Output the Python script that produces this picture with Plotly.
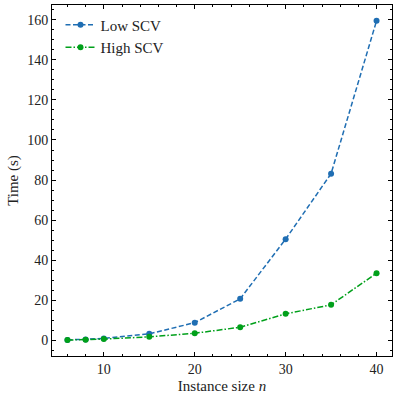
import plotly.graph_objects as go

# instance sizes and solve times
sizes = [6, 8, 10, 15, 20, 25, 30, 35, 40]
low_scv = [0.2, 0.4, 0.9, 3.2, 8.8, 20.7, 50.5, 83.2, 159.5]
high_scv = [0.1, 0.3, 0.6, 1.7, 3.5, 6.5, 13.2, 17.7, 33.5]

blue = "#1f6eb3"
green = "#00a01a"
font_family = "Liberation Serif, DejaVu Serif, serif"

fig = go.Figure()
fig.add_trace(go.Scatter(
    x=sizes, y=low_scv, name="Low SCV", mode="lines+markers",
    line=dict(color=blue, width=1.5, dash="5px,2.5px"),
    marker=dict(color=blue, size=6),
))
fig.add_trace(go.Scatter(
    x=sizes, y=high_scv, name="High SCV", mode="lines+markers",
    line=dict(color=green, width=1.5, dash="6px,2px,1.5px,2px"),
    marker=dict(color=green, size=6),
))

axis_common = dict(
    showline=True, linecolor="black", linewidth=1, mirror="allticks",
    ticks="inside", ticklen=4, tickwidth=1, tickcolor="black",
    showgrid=False, zeroline=False, automargin=False,
    tickfont=dict(size=14, color="#222", family=font_family),
)

fig.update_xaxes(
    range=[4.3, 41.7], tickvals=[10, 20, 30, 40],
    minor=dict(ticks="inside", ticklen=2, tickcolor="black", dtick=2, tick0=0, showgrid=False),
    title=dict(text="Instance size <i>n</i>", font=dict(size=15, color="#222", family=font_family), standoff=4),
    **axis_common,
)
fig.update_yaxes(
    range=[-7.85, 167.4], tickvals=[0, 20, 40, 60, 80, 100, 120, 140, 160],
    minor=dict(ticks="inside", ticklen=2, tickcolor="black", dtick=5, tick0=0, showgrid=False),
    title=dict(text="Time (s)", font=dict(size=15, color="#222", family=font_family), standoff=4),
    **axis_common,
)

fig.update_layout(
    width=398, height=398,
    margin=dict(l=52, r=6, t=5, b=42),
    paper_bgcolor="white", plot_bgcolor="white",
    font=dict(family=font_family, size=14, color="#222"),
    legend=dict(
        x=0.025, y=0.99, xanchor="left", yanchor="top",
        bgcolor="rgba(0,0,0,0)", borderwidth=0,
        font=dict(size=15, family=font_family, color="#222"),
        itemwidth=30,
    ),
    showlegend=True,
)

# page has a default 8px body margin, drop it so the figure sits at the corner
fig.write_html("out.html", config={"displayModeBar": False},
               post_script="document.body.style.margin='0';")
